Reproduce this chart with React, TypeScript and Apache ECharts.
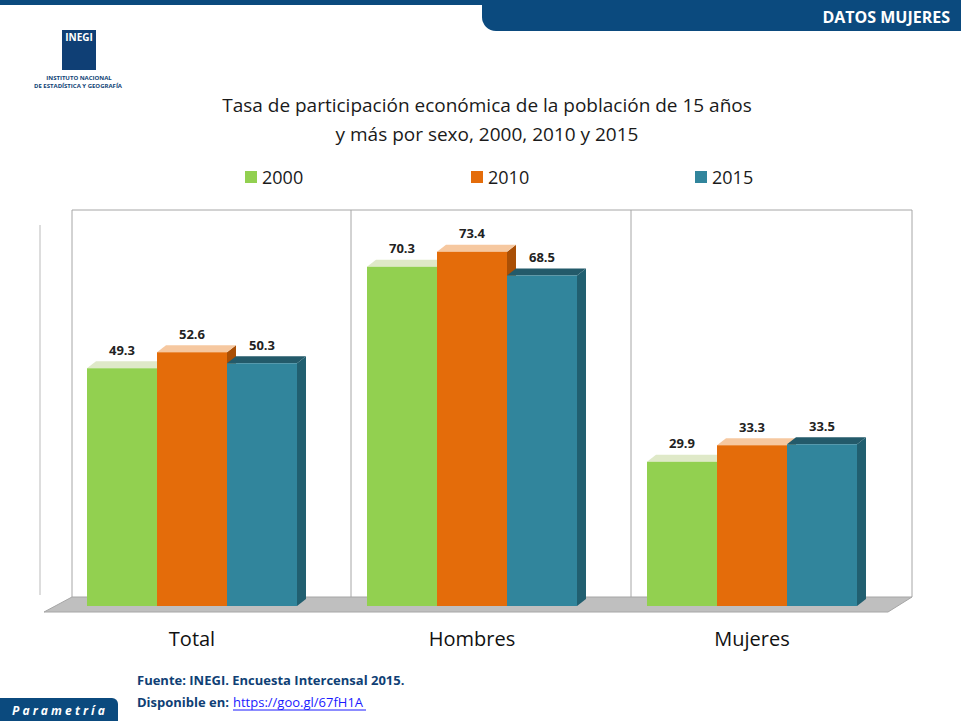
import { useEffect, useRef } from 'react';
import * as echarts from 'echarts';

const categories = ['Total', 'Hombres', 'Mujeres'];
const years = ['2000', '2010', '2015'];
const values2000 = [49.3, 70.3, 29.9];
const values2010 = [52.6, 73.4, 33.3];
const values2015 = [50.3, 68.5, 33.5];

const seriesValues = [values2000, values2010, values2015];
const fronts = ['#92d050', '#e46c0a', '#31859c'];
const sides = ['#6d9e35', '#a94f06', '#215f70'];
const tops = ['#dfe9c8', '#f6c8a0', '#235a6a'];

const BAR_W = 70;
const DX = 9;
const DY = 7;
const FONT = '"Open Sans", "Noto Sans", sans-serif';

export default function App() {
  const ref = useRef<HTMLDivElement>(null);

  useEffect(() => {
    if (!ref.current) return;
    const chart = echarts.init(ref.current, null, { renderer: 'svg' });

    const series = seriesValues.map((vals, si) => ({
      type: 'custom',
      name: years[si],
      itemStyle: { color: fronts[si] },
      data: vals.map((v, i) => [i, v]),
      renderItem: (params: any, api: any) => {
        const idx = api.value(0);
        const v = api.value(1);
        const top = api.coord([idx, v]);
        const base = api.coord([idx, 0]);
        const cx = top[0] + (si - 1) * BAR_W;
        const x0 = cx - BAR_W / 2;
        const x1 = cx + BAR_W / 2;
        const y0 = top[1];
        const yb = base[1];
        return {
          type: 'group',
          children: [
            {
              type: 'polygon',
              shape: { points: [[x1, y0], [x1 + DX, y0 - DY], [x1 + DX, yb - DY], [x1, yb]] },
              style: { fill: sides[si] },
            },
            {
              type: 'polygon',
              shape: { points: [[x0, y0], [x0 + DX, y0 - DY], [x1 + DX, y0 - DY], [x1, y0]] },
              style: { fill: tops[si] },
            },
            {
              type: 'rect',
              shape: { x: x0, y: y0, width: BAR_W, height: yb - y0 },
              style: { fill: fronts[si] },
            },
            {
              type: 'text',
              x: cx,
              y: y0 - 12,
              style: {
                text: v.toFixed(1),
                align: 'center',
                verticalAlign: 'bottom',
                font: `bold 13px ${FONT}`,
                fill: '#222',
              },
            },
          ],
        };
      },
    }));

    const legendLefts = [240, 466, 690];

    chart.setOption({
      animation: false,
      backgroundColor: '#ffffff',
      textStyle: { fontFamily: FONT },
      title: {
        text: 'Tasa de participación económica de la población de 15 años\ny más por sexo, 2000, 2010 y 2015',
        left: 482,
        top: 85,
        textAlign: 'center',
        textStyle: { fontSize: 19, fontWeight: 'normal', color: '#1a1a1a', lineHeight: 29, fontFamily: FONT },
      },
      legend: years.map((y, i) => ({
        data: [y],
        left: legendLefts[i],
        top: 163,
        icon: 'rect',
        itemWidth: 12,
        itemHeight: 12,
        itemGap: 6,
        textStyle: { fontSize: 18, color: '#1a1a1a', fontFamily: FONT },
      })),
      grid: { left: 52, width: 840, top: 220, bottom: 115 },
      xAxis: {
        type: 'category',
        data: categories,
        axisLine: { show: false },
        axisTick: { show: false },
        axisLabel: { fontSize: 20, color: '#111', margin: 22, fontFamily: FONT },
      },
      yAxis: { type: 'value', min: 0, max: 80, show: false },
      graphic: [
        // header
        { type: 'rect', shape: { x: 0, y: 0, width: 961, height: 5 }, style: { fill: '#0b4a7e' } },
        { type: 'rect', shape: { x: 482, y: 0, width: 479, height: 31, r: [0, 0, 0, 14] }, style: { fill: '#0b4a7e' } },
        { type: 'text', x: 950, y: 17, style: { text: 'DATOS MUJERES', align: 'right', verticalAlign: 'middle', font: `bold 16px ${FONT}`, fill: '#fff' } },
        // logo
        { type: 'rect', shape: { x: 62, y: 30, width: 34, height: 40 }, style: { fill: '#0f3f75' } },
        { type: 'text', x: 79, y: 37, style: { text: 'INEGI', align: 'center', verticalAlign: 'middle', font: `bold 10px ${FONT}`, fill: '#fff' } },
        { type: 'text', x: 79, y: 78, style: { text: 'INSTITUTO NACIONAL', align: 'center', verticalAlign: 'middle', font: `bold 6px ${FONT}`, fill: '#0f3f75' } },
        { type: 'text', x: 78, y: 86, style: { text: 'DE ESTADÍSTICA Y GEOGRAFÍA', align: 'center', verticalAlign: 'middle', font: `bold 6px ${FONT}`, fill: '#0f3f75' } },
        // plot box and separators
        { type: 'polyline', shape: { points: [[72, 597], [72, 210], [912, 210], [912, 597]] }, style: { stroke: '#a6a6a6', lineWidth: 1, fill: 'none' }, z: -1 },
        { type: 'line', shape: { x1: 351, y1: 210, x2: 351, y2: 597 }, style: { stroke: '#a6a6a6', lineWidth: 1 }, z: -1 },
        { type: 'line', shape: { x1: 631, y1: 210, x2: 631, y2: 597 }, style: { stroke: '#a6a6a6', lineWidth: 1 }, z: -1 },
        { type: 'line', shape: { x1: 40, y1: 225, x2: 40, y2: 595 }, style: { stroke: '#bbbbbb', lineWidth: 1 }, z: -1 },
        // floor
        { type: 'polygon', shape: { points: [[72, 597], [912, 597], [888, 612], [44, 612]] }, style: { fill: '#bfbfbf', stroke: '#a6a6a6' }, z: -1 },
        // source
        { type: 'text', x: 137, y: 680, style: { text: 'Fuente: INEGI. Encuesta Intercensal 2015.', verticalAlign: 'middle', font: `bold 13px ${FONT}`, fill: '#0f3f75' } },
        { type: 'text', x: 137, y: 702, style: { text: 'Disponible en:', verticalAlign: 'middle', font: `bold 13px ${FONT}`, fill: '#0f3f75' } },
        { type: 'text', x: 233, y: 702, style: { text: 'https://goo.gl/67fH1A', verticalAlign: 'middle', font: `13px ${FONT}`, fill: '#1a1aff' } },
        { type: 'line', shape: { x1: 233, y1: 710, x2: 366, y2: 710 }, style: { stroke: '#1a1aff', lineWidth: 1 } },
        // bottom badge
        { type: 'rect', shape: { x: 0, y: 698, width: 118, height: 23, r: [0, 6, 0, 0] }, style: { fill: '#0b4a7e' } },
        { type: 'text', x: 12, y: 710, style: { text: 'P a r a m e t r í a', verticalAlign: 'middle', font: `italic bold 12px ${FONT}`, fill: '#fff' } },
      ],
      series,
    });

    return () => chart.dispose();
  }, []);

  return <div ref={ref} style={{ position: 'absolute', left: 0, top: 0, width: 961, height: 721 }} />;
}
